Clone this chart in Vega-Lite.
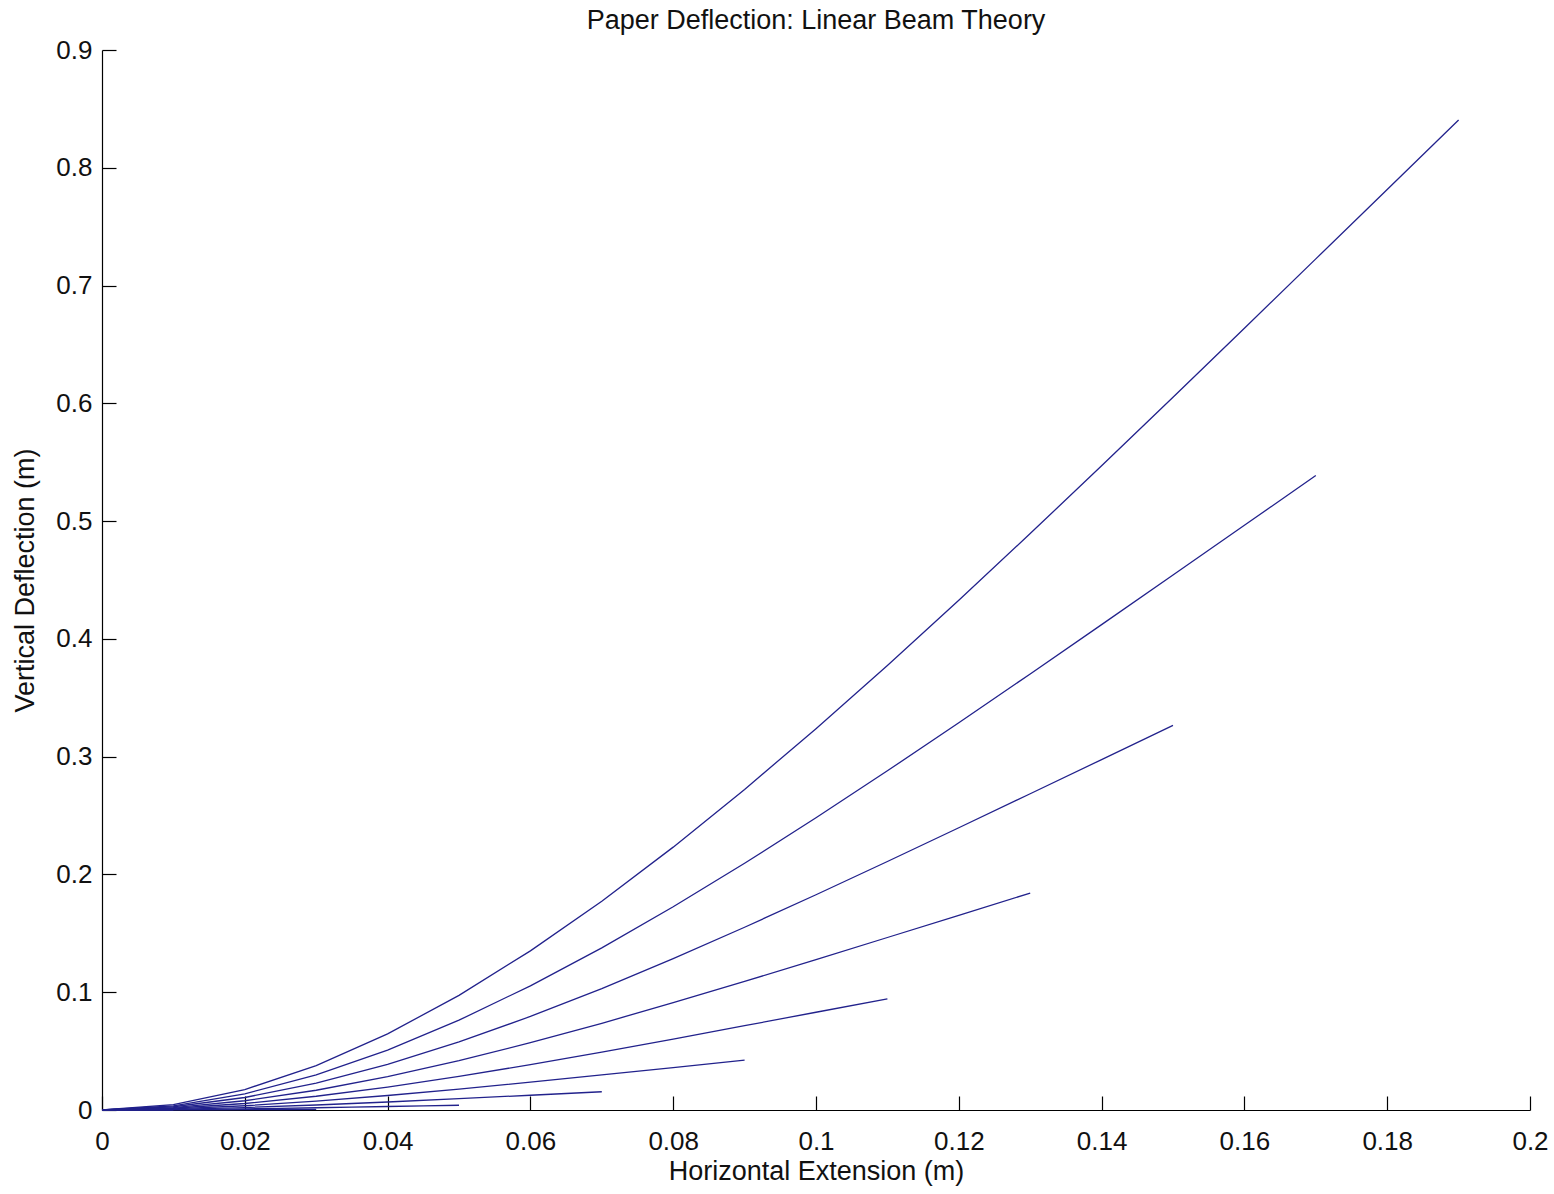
{
  "$schema": "https://vega.github.io/schema/vega-lite/v6.json",
  "width": 1428,
  "height": 1060,
  "autosize": {"type": "none"},
  "padding": {"left": 102, "top": 50, "right": 24, "bottom": 84},
  "background": "white",
  "config": {
    "view": {"stroke": null},
    "font": "Liberation Sans",
    "axis": {"grid": false, "domainColor": "black", "tickColor": "black", "labelColor": "#111", "titleColor": "#111", "labelFont": "Liberation Sans", "titleFont": "Liberation Sans", "titleFontWeight": "normal", "labelFontSize": 26, "titleFontSize": 27, "domainWidth": 1.2, "tickWidth": 1.2}
  },
  "title": {"text": "Paper Deflection: Linear Beam Theory", "fontSize": 27, "fontWeight": "normal", "font": "Liberation Sans", "color": "#111", "offset": 2, "anchor": "middle"},
  "data": {"values": [
    {"L":0.19,"x":0,"y":0},{"L":0.19,"x":0.01,"y":0.004496},{"L":0.19,"x":0.02,"y":0.017355},{"L":0.19,"x":0.03,"y":0.037674},{"L":0.19,"x":0.04,"y":0.064603},{"L":0.19,"x":0.05,"y":0.097341},{"L":0.19,"x":0.06,"y":0.13514},{"L":0.19,"x":0.07,"y":0.177304},{"L":0.19,"x":0.08,"y":0.223187},{"L":0.19,"x":0.09,"y":0.272196},{"L":0.19,"x":0.1,"y":0.32379},{"L":0.19,"x":0.11,"y":0.377478},{"L":0.19,"x":0.12,"y":0.432821},{"L":0.19,"x":0.13,"y":0.489432},{"L":0.19,"x":0.14,"y":0.546977},{"L":0.19,"x":0.15,"y":0.605171},{"L":0.19,"x":0.16,"y":0.663782},{"L":0.19,"x":0.17,"y":0.72263},{"L":0.19,"x":0.18,"y":0.781585},{"L":0.19,"x":0.19,"y":0.84057},
    {"L":0.17,"x":0,"y":0},{"L":0.17,"x":0.01,"y":0.003584},{"L":0.17,"x":0.02,"y":0.013777},{"L":0.17,"x":0.03,"y":0.02978},{"L":0.17,"x":0.04,"y":0.050843},{"L":0.17,"x":0.05,"y":0.076271},{"L":0.17,"x":0.06,"y":0.105419},{"L":0.17,"x":0.07,"y":0.137692},{"L":0.17,"x":0.08,"y":0.17255},{"L":0.17,"x":0.09,"y":0.209502},{"L":0.17,"x":0.1,"y":0.24811},{"L":0.17,"x":0.11,"y":0.287986},{"L":0.17,"x":0.12,"y":0.328795},{"L":0.17,"x":0.13,"y":0.370254},{"L":0.17,"x":0.14,"y":0.412129},{"L":0.17,"x":0.15,"y":0.454241},{"L":0.17,"x":0.16,"y":0.496461},{"L":0.17,"x":0.17,"y":0.53871},
    {"L":0.15,"x":0,"y":0},{"L":0.15,"x":0.01,"y":0.002776},{"L":0.15,"x":0.02,"y":0.010612},{"L":0.15,"x":0.03,"y":0.022814},{"L":0.15,"x":0.04,"y":0.038734},{"L":0.15,"x":0.05,"y":0.057781},{"L":0.15,"x":0.06,"y":0.079412},{"L":0.15,"x":0.07,"y":0.103138},{"L":0.15,"x":0.08,"y":0.128518},{"L":0.15,"x":0.09,"y":0.155168},{"L":0.15,"x":0.1,"y":0.18275},{"L":0.15,"x":0.11,"y":0.210982},{"L":0.15,"x":0.12,"y":0.23963},{"L":0.15,"x":0.13,"y":0.268516},{"L":0.15,"x":0.14,"y":0.297508},{"L":0.15,"x":0.15,"y":0.326531},
    {"L":0.13,"x":0,"y":0},{"L":0.13,"x":0.01,"y":0.00207},{"L":0.13,"x":0.02,"y":0.00786},{"L":0.13,"x":0.03,"y":0.016776},{"L":0.13,"x":0.04,"y":0.028277},{"L":0.13,"x":0.05,"y":0.041871},{"L":0.13,"x":0.06,"y":0.057121},{"L":0.13,"x":0.07,"y":0.07364},{"L":0.13,"x":0.08,"y":0.091091},{"L":0.13,"x":0.09,"y":0.109192},{"L":0.13,"x":0.1,"y":0.12771},{"L":0.13,"x":0.11,"y":0.146464},{"L":0.13,"x":0.12,"y":0.165326},{"L":0.13,"x":0.13,"y":0.184218},
    {"L":0.11,"x":0,"y":0},{"L":0.11,"x":0.01,"y":0.001468},{"L":0.11,"x":0.02,"y":0.005521},{"L":0.11,"x":0.03,"y":0.011668},{"L":0.11,"x":0.04,"y":0.01947},{"L":0.11,"x":0.05,"y":0.028541},{"L":0.11,"x":0.06,"y":0.038545},{"L":0.11,"x":0.07,"y":0.049198},{"L":0.11,"x":0.08,"y":0.060269},{"L":0.11,"x":0.09,"y":0.071576},{"L":0.11,"x":0.1,"y":0.08299},{"L":0.11,"x":0.11,"y":0.094434},
    {"L":0.09,"x":0,"y":0},{"L":0.09,"x":0.01,"y":0.00097},{"L":0.09,"x":0.02,"y":0.003595},{"L":0.09,"x":0.03,"y":0.007488},{"L":0.09,"x":0.04,"y":0.012315},{"L":0.09,"x":0.05,"y":0.017791},{"L":0.09,"x":0.06,"y":0.023684},{"L":0.09,"x":0.07,"y":0.029814},{"L":0.09,"x":0.08,"y":0.036051},{"L":0.09,"x":0.09,"y":0.042318},
    {"L":0.07,"x":0,"y":0},{"L":0.07,"x":0.01,"y":0.000574},{"L":0.07,"x":0.02,"y":0.002081},{"L":0.07,"x":0.03,"y":0.004238},{"L":0.07,"x":0.04,"y":0.006811},{"L":0.07,"x":0.05,"y":0.009621},{"L":0.07,"x":0.06,"y":0.012539},{"L":0.07,"x":0.07,"y":0.015486},
    {"L":0.05,"x":0,"y":0},{"L":0.05,"x":0.005,"y":0.0000754},{"L":0.05,"x":0.01,"y":0.000282},{"L":0.05,"x":0.015,"y":0.000591},{"L":0.05,"x":0.02,"y":0.00098},{"L":0.05,"x":0.025,"y":0.001428},{"L":0.05,"x":0.03,"y":0.001916},{"L":0.05,"x":0.035,"y":0.00243},{"L":0.05,"x":0.04,"y":0.002958},{"L":0.05,"x":0.045,"y":0.003494},{"L":0.05,"x":0.05,"y":0.004031},
    {"L":0.03,"x":0,"y":0},{"L":0.03,"x":0.005,"y":0.0000259},{"L":0.03,"x":0.01,"y":0.0000925},{"L":0.03,"x":0.015,"y":0.000185},{"L":0.03,"x":0.02,"y":0.000292},{"L":0.03,"x":0.025,"y":0.000406},{"L":0.03,"x":0.03,"y":0.000522},
    {"L":0.01,"x":0,"y":0},{"L":0.01,"x":0.005,"y":0.0000023},{"L":0.01,"x":0.01,"y":0.0000065}
  ]},
  "mark": {"type": "line", "color": "#22228c", "strokeWidth": 1.3},
  "encoding": {
    "detail": {"field": "L", "type": "nominal"},
    "x": {"field": "x", "type": "quantitative", "scale": {"domain": [0, 0.2], "nice": false, "zero": false},
      "axis": {"title": "Horizontal Extension (m)", "values": [0,0.02,0.04,0.06,0.08,0.1,0.12,0.14,0.16,0.18,0.2], "format": "~g", "tickSize": -14, "labelPadding": 32, "titlePadding": 4, "labelFlush": false, "labelOverlap": false}},
    "y": {"field": "y", "type": "quantitative", "scale": {"domain": [0, 0.9], "nice": false, "zero": false},
      "axis": {"title": "Vertical Deflection (m)", "values": [0,0.1,0.2,0.3,0.4,0.5,0.6,0.7,0.8,0.9], "format": "~g", "tickSize": -14, "labelPadding": 24, "titlePadding": 16, "labelFlush": false, "labelOverlap": false}}
  }
}
